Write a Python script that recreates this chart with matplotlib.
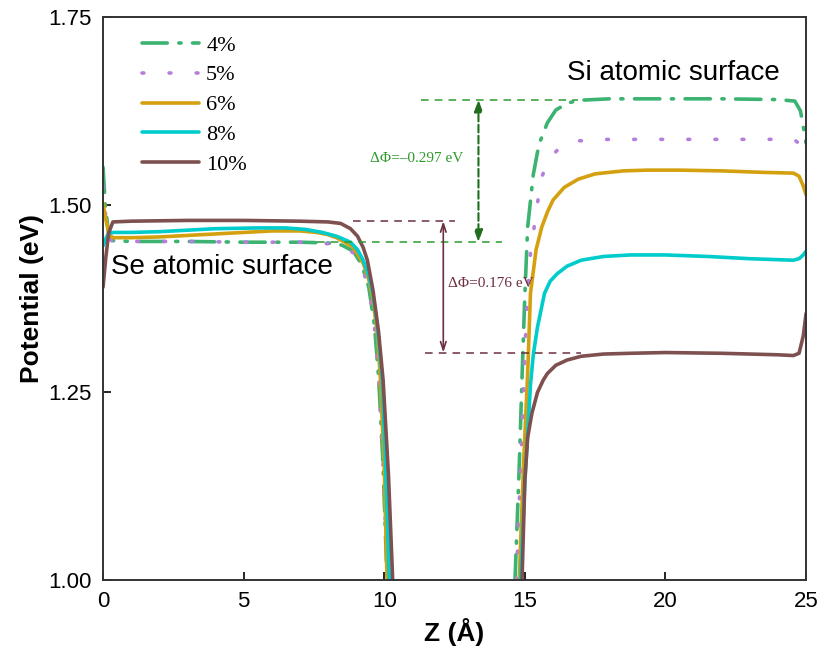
import matplotlib
matplotlib.use('Agg')
import matplotlib.pyplot as plt
import numpy as np

XSIZE, YSIZE = 8.19, 6.59

labels = ['4%', '5%', '6%', '8%', '10%']
colors = ['#3cb371', '#b57edc', '#d4a00f', '#00cccc', '#7f5050']

# left (Se side) and right (Si side) branches
x4_l = [0, 0.08, 0.2, 0.35, 1, 3, 5, 7, 8, 8.5, 8.9, 9.2, 9.45, 9.65, 9.8, 9.95, 10.1]
y4_l = [1.55, 1.50, 1.46, 1.452, 1.451, 1.451, 1.450, 1.450, 1.449, 1.446, 1.438, 1.42, 1.39, 1.34, 1.27, 1.16, 1.00]
x4_r = [14.65, 14.8, 14.9, 15.0, 15.1, 15.3, 15.5, 15.8, 16.1, 16.5, 16.9, 18, 20, 22, 24, 24.6, 24.8, 24.92, 25]
y4_r = [1.00, 1.15, 1.27, 1.38, 1.47, 1.54, 1.58, 1.609, 1.626, 1.635, 1.639, 1.641, 1.641, 1.641, 1.640, 1.638, 1.625, 1.60, 1.582]

x5_l = [0, 0.08, 0.18, 0.3, 1, 3, 5, 7, 8, 8.5, 8.9, 9.2, 9.45, 9.65, 9.8, 9.95, 10.12]
y5_l = [1.525, 1.49, 1.46, 1.452, 1.451, 1.451, 1.450, 1.450, 1.448, 1.444, 1.436, 1.418, 1.388, 1.34, 1.27, 1.16, 1.00]
x5_r = [14.7, 14.9, 15.05, 15.2, 15.45, 15.6, 15.9, 16.3, 16.9, 18, 20, 22, 24, 24.6, 24.8, 24.92, 25]
y5_r = [1.00, 1.20, 1.35, 1.435, 1.502, 1.537, 1.563, 1.578, 1.585, 1.587, 1.587, 1.587, 1.587, 1.586, 1.58, 1.57, 1.557]

x6_l = [0, 0.1, 0.22, 0.35, 1, 2, 3, 4, 5, 6, 7, 7.6, 8.0, 8.3, 8.6, 8.9, 9.25, 9.45, 9.6, 9.75, 9.86, 10.0, 10.1]
y6_l = [1.502, 1.48, 1.46, 1.456, 1.456, 1.457, 1.459, 1.461, 1.463, 1.465, 1.465, 1.463, 1.46, 1.456, 1.45, 1.443, 1.422, 1.40, 1.373, 1.33, 1.27, 1.15, 1.00]
x6_r = [14.8, 14.95, 15.1, 15.2, 15.4, 15.6, 15.8, 16.0, 16.4, 16.9, 17.5, 18.5, 19.35, 20.5, 22, 23.5, 24.55, 24.75, 24.9, 25]
y6_r = [1.00, 1.15, 1.275, 1.382, 1.44, 1.47, 1.49, 1.506, 1.523, 1.534, 1.541, 1.545, 1.546, 1.546, 1.545, 1.543, 1.542, 1.538, 1.525, 1.513]

x8_l = [0, 0.1, 0.2, 0.4, 1, 2, 3, 4, 5.5, 6.5, 7.2, 7.8, 8.3, 8.8, 9.05, 9.25, 9.45, 9.6, 9.75, 9.93, 10.05, 10.18]
y8_l = [1.445, 1.455, 1.462, 1.463, 1.463, 1.464, 1.466, 1.468, 1.469, 1.469, 1.467, 1.463, 1.458, 1.45, 1.44, 1.426, 1.405, 1.38, 1.34, 1.266, 1.15, 1.00]
x8_r = [14.85, 15.0, 15.2, 15.3, 15.45, 15.7, 15.9, 16.15, 16.5, 17.0, 17.8, 18.75, 20, 21.5, 23, 24.55, 24.75, 24.9, 25]
y8_r = [1.00, 1.13, 1.26, 1.30, 1.337, 1.382, 1.398, 1.408, 1.418, 1.426, 1.431, 1.433, 1.433, 1.431, 1.428, 1.426, 1.428, 1.433, 1.438]

x10_l = [0, 0.1, 0.2, 0.35, 1, 3, 5, 7, 8, 8.45, 8.8, 9.05, 9.25, 9.4, 9.6, 9.8, 9.96, 10.15, 10.3]
y10_l = [1.39, 1.43, 1.462, 1.477, 1.478, 1.479, 1.479, 1.478, 1.477, 1.475, 1.468, 1.458, 1.443, 1.426, 1.386, 1.33, 1.266, 1.14, 1.00]
x10_r = [14.9, 15.0, 15.1, 15.25, 15.45, 15.65, 15.8, 16.1, 16.5, 17.0, 17.8, 18.75, 20, 22, 24, 24.55, 24.75, 24.9, 25]
y10_r = [1.00, 1.133, 1.19, 1.222, 1.25, 1.266, 1.275, 1.286, 1.293, 1.298, 1.301, 1.302, 1.303, 1.302, 1.300, 1.299, 1.302, 1.325, 1.355]

series = [
    (x4_l, y4_l, x4_r, y4_r),
    (x5_l, y5_l, x5_r, y5_r),
    (x6_l, y6_l, x6_r, y6_r),
    (x8_l, y8_l, x8_r, y8_r),
    (x10_l, y10_l, x10_r, y10_r),
]
styles = [(0, (7, 3.2, 0.6, 3.2)), (0, (0.5, 7)), '-', '-', '-']

# work function levels
phi_si_4, phi_se = 1.640, 1.450
phi_se_10, phi_si_10 = 1.478, 1.303

fig = plt.figure(figsize=(XSIZE, YSIZE), dpi=100)
ax = fig.add_axes([0.1258, 0.1199, 0.8584, 0.8543])

for (xl, yl, xr, yr), lab, c, ls in zip(series, labels, colors, styles):
    x = list(xl) + [np.nan] + list(xr)
    y = list(yl) + [np.nan] + list(yr)
    ax.plot(x, y, color=c, lw=2.6, ls=ls, label=lab,
            dash_capstyle='round', solid_capstyle='round')

""" Annotations """
gcol = '#2e9a2e'
bcol = '#6b3040'
ax.plot([11.3, 16.9], [phi_si_4, phi_si_4], color=gcol, lw=1.1, ls=(0, (5, 4)))
ax.plot([7.6, 14.2], [phi_se, phi_se], color=gcol, lw=1.1, ls=(0, (5, 4)))
ax.annotate('', xy=(13.35, phi_se), xytext=(13.35, phi_si_4),
            arrowprops=dict(arrowstyle='<|-|>,head_length=0.7,head_width=0.25',
                            color='#1e6e1e', lw=1.5, ls='--',
                            shrinkA=0, shrinkB=0))
ax.text(9.5, 1.562, '\u0394\u03a6=\u20130.297 eV', color=gcol, fontsize=11,
        family='Liberation Serif', va='center', ha='left')

ax.plot([8.9, 12.5], [phi_se_10, phi_se_10], color=bcol, lw=1.1, ls=(0, (5, 4)))
ax.plot([11.45, 17.0], [phi_si_10, phi_si_10], color=bcol, lw=1.1, ls=(0, (5, 4)))
ax.annotate('', xy=(12.1, phi_si_10), xytext=(12.1, phi_se_10),
            arrowprops=dict(arrowstyle='<->,head_length=0.6,head_width=0.2',
                            color=bcol, lw=1.2, shrinkA=0, shrinkB=0))
ax.text(12.25, 1.395, '\u0394\u03a6=0.176 eV', color=bcol, fontsize=11,
        family='Liberation Serif', va='center', ha='left')

ax.text(0.3, 1.417, 'Se atomic surface', fontsize=20,
        family='Liberation Sans', va='center', ha='left')
ax.text(16.5, 1.676, 'Si atomic surface', fontsize=20,
        family='Liberation Sans', va='center', ha='left')

ax.set_xlim(0, 25)
ax.set_ylim(1.0, 1.75)
ax.set_xticks([0, 5, 10, 15, 20, 25])
ax.set_yticks([1.00, 1.25, 1.50, 1.75])
ax.set_yticklabels(['1.00', '1.25', '1.50', '1.75'])
ax.tick_params(direction='in', length=6, width=1.2, labelsize=16,
               top=False, right=False, pad=8)
for lab in ax.get_xticklabels() + ax.get_yticklabels():
    lab.set_family('Liberation Sans')
for sp in ax.spines.values():
    sp.set_linewidth(1.4)
    sp.set_color('#333333')

ax.set_xlabel('Z (\u00c5)', fontsize=19, fontweight='bold', family='Liberation Sans', labelpad=4)
ax.set_ylabel('Potential (eV)', fontsize=19, fontweight='bold', family='Liberation Sans', labelpad=3)

ax.legend(loc='upper left', bbox_to_anchor=(0.055, 0.968), frameon=False,
          prop={'family': 'Liberation Serif', 'size': 16},
          handlelength=2.6, handletextpad=0.3, labelspacing=0.42,
          borderaxespad=0, borderpad=0)

fig.savefig('out.png', dpi=100)
plt.close(fig)
